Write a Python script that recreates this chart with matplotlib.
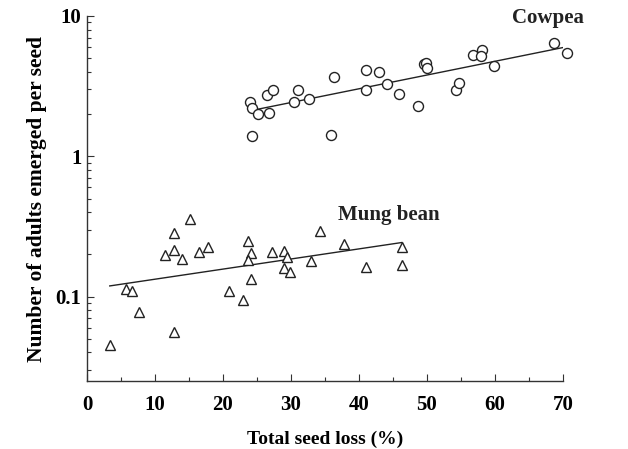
import numpy as np
import matplotlib
matplotlib.use("Agg")
import matplotlib.pyplot as plt
from matplotlib.ticker import FixedLocator, LogLocator, NullFormatter

# datos
cowpea_x = [24.0, 24.3, 25.1, 26.7, 26.4, 27.3, 24.2, 30.5, 31.0, 32.6, 36.3, 35.9,
            41.0, 42.9, 41.1, 44.1, 45.9, 48.7, 49.6, 49.9, 50.0, 54.3, 54.7, 56.7,
            58.1, 58.0, 59.9, 68.7, 70.6]
cowpea_y = [2.44, 2.22, 2.00, 2.05, 2.73, 2.97, 1.39, 2.44, 2.97, 2.58, 3.66, 1.42,
            4.11, 3.99, 2.96, 3.27, 2.80, 2.28, 4.53, 4.60, 4.25, 2.97, 3.32, 5.27,
            5.75, 5.16, 4.43, 6.46, 5.48]

mung_x = [3.35, 5.7, 6.6, 7.6, 12.75, 11.4, 12.85, 14.0, 12.75, 15.2, 16.5, 17.8,
          23.65, 24.1, 23.7, 24.1, 20.9, 23.0, 27.15, 29.0, 29.4, 29.0, 29.8, 32.9,
          34.2, 37.8, 41.0, 46.3, 46.3]
mung_y = [0.0455, 0.114, 0.110, 0.0773, 0.0557, 0.197, 0.214, 0.185, 0.284, 0.355,
          0.208, 0.225, 0.248, 0.204, 0.183, 0.133, 0.109, 0.094, 0.208, 0.210, 0.192,
          0.160, 0.150, 0.180, 0.292, 0.238, 0.162, 0.226, 0.167]

x_ticks = [0, 10, 20, 30, 40, 50, 60, 70]
y_ticks = [0.1, 1, 10]
y_labels = ["0.1", "1", "10"]

plt.rcParams['font.family'] = ['Liberation Serif', 'DejaVu Serif']
plt.rcParams['font.weight'] = 'bold'

fig = plt.figure(figsize=(6.28, 4.49), dpi=100)
ax = fig.add_axes([0.1385, 0.1514, 0.758, 0.813])


def ajuste(x, y):
    # regresion lineal de log10(y) sobre x
    b, a = np.polyfit(x, np.log10(y), 1)
    xx = np.array([min(x), max(x)])
    return xx, 10 ** (a + b * xx)


for xs, ys, m in [(cowpea_x, cowpea_y, 'o'), (mung_x, mung_y, '^')]:
    ax.plot(xs, ys, m, mfc='white', mec='#222222', mew=1.0,
            ms=7.2 if m == 'o' else 7, linestyle='none', clip_on=False, zorder=3)
    lx, ly = ajuste(xs, ys)
    ax.plot(lx, ly, color='#222222', lw=1.0, zorder=2)

ax.set_yscale('log')
ax.set_xlim(0, 70)
ax.set_ylim(0.025, 10)
ax.xaxis.set_major_locator(FixedLocator(x_ticks))
ax.xaxis.set_minor_locator(FixedLocator([5, 15, 25, 35, 45, 55, 65]))
ax.yaxis.set_major_locator(FixedLocator(y_ticks))
ax.set_yticklabels(y_labels)
ax.yaxis.set_minor_locator(LogLocator(base=10, subs=np.arange(2, 10)))
ax.yaxis.set_minor_formatter(NullFormatter())

for s in ['top', 'right']:
    ax.spines[s].set_visible(False)
for s in ['left', 'bottom']:
    ax.spines[s].set_color('#333333')
    ax.spines[s].set_linewidth(1.0)

ax.tick_params(which='major', direction='in', length=5, width=0.8,
               labelsize=15, color='#333333')
ax.tick_params(axis='x', which='major', pad=10)
ax.tick_params(axis='y', which='major', pad=4)
ax.tick_params(which='minor', direction='in', length=3, width=0.8, color='#333333')
for t in ax.get_xticklabels() + ax.get_yticklabels():
    t.set_fontweight('bold')

ax.set_xlabel('Total seed loss (%)', fontsize=14, fontweight='bold', labelpad=11)
ax.set_ylabel('Number of adults emerged per seed', fontsize=15.5, fontweight='bold',
              labelpad=6)

ax.text(67.8, 9.6, 'Cowpea', fontsize=15, fontweight='bold', ha='center', va='center',
        color='#222222')
ax.text(44.4, 0.38, 'Mung bean', fontsize=15, fontweight='bold', ha='center',
        va='center', color='#222222')

fig.savefig('out.png', dpi=100)
